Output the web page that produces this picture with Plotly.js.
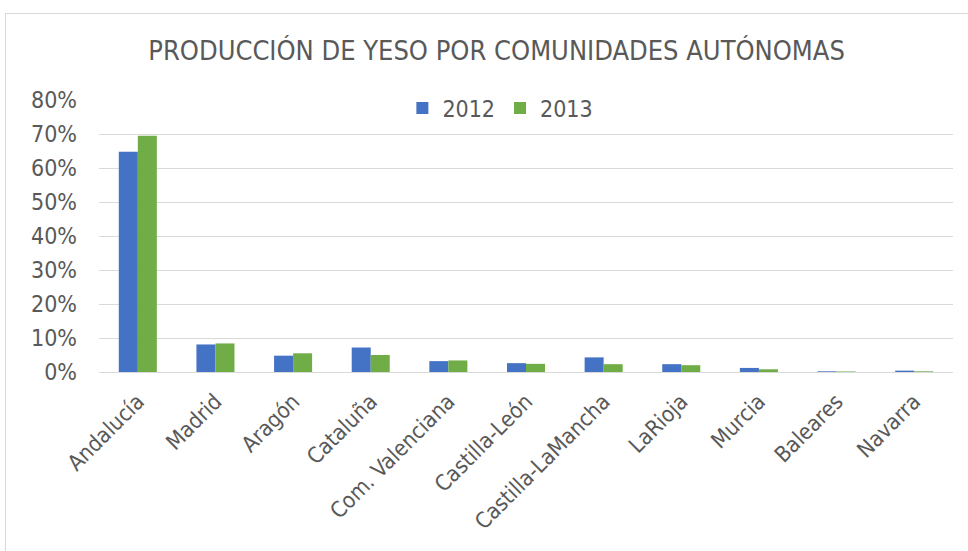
<!DOCTYPE html>
<html><head><meta charset="utf-8">
<script src="https://cdn.plot.ly/plotly-3.0.1.min.js"></script>
<style>
html,body{margin:0;padding:0;background:#fff;}
#frame{position:absolute;left:5px;top:13px;width:1000px;height:600px;border:1px solid #d9d9d9;}
#chart{position:absolute;left:0;top:0;width:968px;height:551px;}
</style></head>
<body><div id="frame"></div><div id="chart"></div>
<script>
const categories = ["Andalucía","Madrid","Aragón","Cataluña","Com. Valenciana","Castilla-León","Castilla-LaMancha","LaRioja","Murcia","Baleares","Navarra"];
const values2012 = [0.648,0.081,0.048,0.072,0.032,0.026,0.043,0.023,0.012,0.002,0.004];
const values2013 = [0.695,0.084,0.055,0.050,0.034,0.024,0.023,0.020,0.008,0.0015,0.002];
const yTicks = [0,0.1,0.2,0.3,0.4,0.5,0.6,0.7,0.8];

const font = "Tahoma, 'DejaVu Sans Condensed', 'DejaVu Sans', sans-serif";
const traces = [
  {type:"bar", name:"2012", x:categories, y:values2012, marker:{color:"#4472C4"}},
  {type:"bar", name:"2013", x:categories, y:values2013, marker:{color:"#70AD47"}}
];
const layout = {
  width:968, height:551,
  paper_bgcolor:"rgba(0,0,0,0)", plot_bgcolor:"rgba(0,0,0,0)",
  margin:{l:99,r:15,t:100,b:179},
  font:{family:font,color:"#595959"},
  title:{text:"PRODUCCIÓN DE YESO POR COMUNIDADES AUTÓNOMAS", x:0.513, xanchor:"center", y:0.909, yanchor:"middle", font:{size:27,color:"#595959",family:font}},
  barmode:"group", bargap:0.51, bargroupgap:0,
  showlegend:true,
  legend:{orientation:"h", x:0.47, xanchor:"center", y:0.97, yanchor:"middle", font:{size:23,color:"#595959"}, itemwidth:30, tracegroupgap:0},
  xaxis:{tickangle:-45, tickfont:{size:22,color:"#595959"}, showline:true, linecolor:"#d9d9d9", linewidth:1, ticks:"", showgrid:false, ticklabelstandoff:7},
  yaxis:{range:[0,0.8], tickvals:yTicks, tickformat:".0%", tickfont:{size:23,color:"#595959"}, showgrid:true, gridcolor:"#d9d9d9", gridwidth:1, zeroline:false, ticklabelstandoff:21, showline:false}
};
Plotly.newPlot("chart", traces, layout, {displayModeBar:false, staticPlot:true});
</script></body></html>
